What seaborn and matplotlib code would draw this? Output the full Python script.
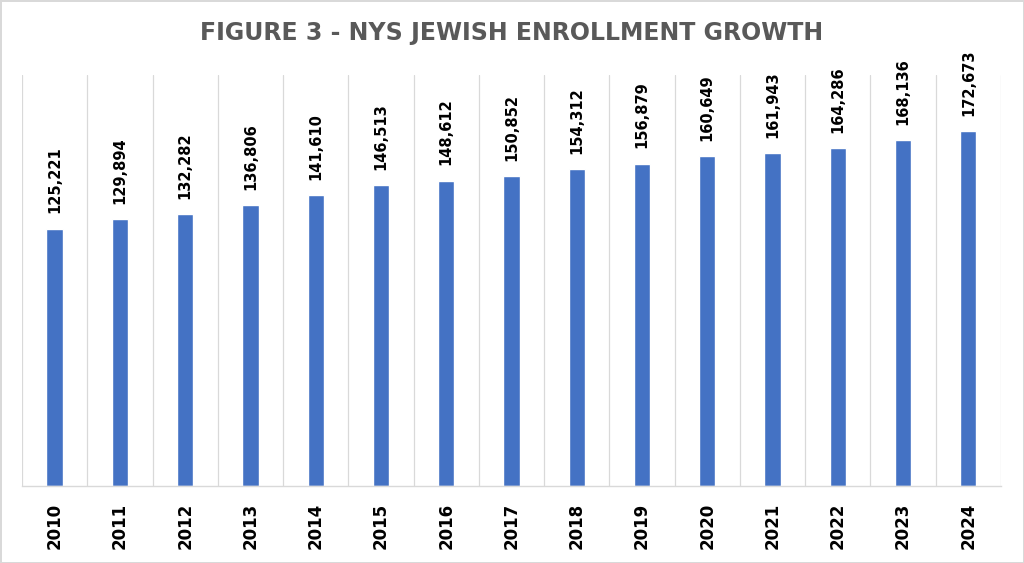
import matplotlib
matplotlib.use('Agg')
import matplotlib.pyplot as plt
import seaborn as sns
import numpy as np

# === DATA ===
years = ["2010", "2011", "2012", "2013", "2014", "2015", "2016", "2017",
         "2018", "2019", "2020", "2021", "2022", "2023", "2024"]
enrollment = [125221, 129894, 132282, 136806, 141610, 146513, 148612, 150852,
              154312, 156879, 160649, 161943, 164286, 168136, 172673]

sns.set_theme(style="white")
plt.rcParams['font.family'] = ['DejaVu Sans']

fig = plt.figure(figsize=(10.24, 5.63), dpi=100)
fig.patch.set_facecolor('white')
fig.patch.set_edgecolor('#d9d9d9')
fig.patch.set_linewidth(2)

ax = fig.add_axes([0.0215, 0.1368, 0.956, 0.73])
sns.barplot(x=years, y=enrollment, color='#4472C4', width=0.25,
            saturation=1, ax=ax)

ax.set_ylim(0, 200000)
ax.set_xlim(-0.5, len(years) - 0.5)
ax.set_yticks([])
ax.set_ylabel("")
ax.set_xlabel("")

# vertical separators between categories
ax.set_xticks(np.arange(-0.5, len(years), 1), minor=True)
ax.grid(True, which='minor', axis='x', color='#d9d9d9', linewidth=0.9)
ax.grid(False, which='major')
ax.tick_params(axis='x', which='both', length=0)
ax.tick_params(axis='x', which='major', pad=12)

for lbl in ax.get_xticklabels():
    lbl.set_rotation(90)
    lbl.set_fontweight('bold')
    lbl.set_fontsize(12)
    lbl.set_color('black')

for s in ['left', 'top', 'right']:
    ax.spines[s].set_visible(False)
ax.spines['bottom'].set_color('#d9d9d9')
ax.spines['bottom'].set_linewidth(1)

# value labels
for i, v in enumerate(enrollment):
    ax.annotate(f"{v:,}", xy=(i, v), xytext=(0, 11), textcoords='offset points',
                rotation=90, ha='center', va='bottom', fontsize=10.5,
                fontweight='bold', color='black')

fig.text(0.5, 0.941, "FIGURE 3 - NYS JEWISH ENROLLMENT GROWTH",
         ha='center', va='center', fontsize=17, fontweight='bold',
         color='#595959')

fig.savefig('out.png', dpi=100, facecolor=fig.get_facecolor(),
            edgecolor=fig.get_edgecolor())
